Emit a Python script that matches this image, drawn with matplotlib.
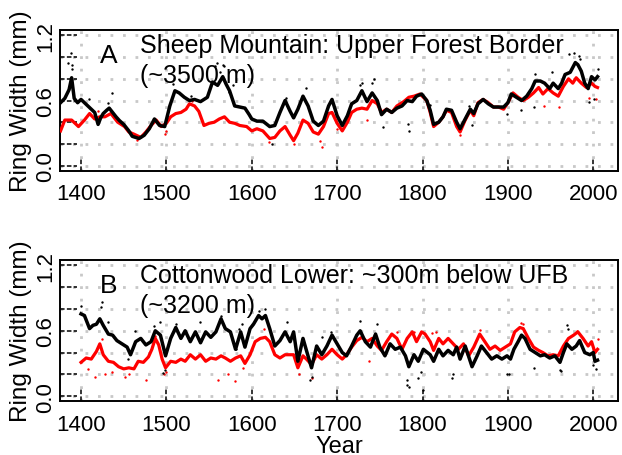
import matplotlib.pyplot as plt
import numpy as np

plt.rcParams['font.family'] = ['Liberation Sans', 'DejaVu Sans']

# Panel A: Sheep Mountain, upper forest border -- smoothed series
a_blk_years = [1376, 1381, 1386, 1389, 1392, 1396, 1400, 1404, 1408, 1412, 1416, 1420, 1423, 1426,
               1430, 1433, 1437, 1441, 1445, 1450, 1456, 1460, 1464, 1468, 1474, 1480, 1486, 1492,
               1498, 1504, 1510, 1515, 1521, 1527, 1533, 1540, 1548, 1554, 1560, 1566, 1570, 1574,
               1580, 1586, 1592, 1597, 1600, 1606, 1613, 1621, 1627, 1633, 1639, 1645, 1649, 1654,
               1660, 1666, 1672, 1678, 1684, 1690, 1694, 1700, 1706, 1712, 1717, 1723, 1729, 1735,
               1741, 1747, 1752, 1758, 1764, 1770, 1776, 1782, 1788, 1793, 1799, 1805, 1809, 1813,
               1819, 1824, 1828, 1834, 1840, 1844, 1850, 1856, 1860, 1865, 1871, 1877, 1883, 1889,
               1895, 1900, 1904, 1910, 1916, 1922, 1928, 1932, 1938, 1943, 1949, 1953, 1959, 1963,
               1967, 1973, 1979, 1982, 1986, 1990, 1994, 1998, 2002, 2005]
a_blk_vals = [0.58, 0.62, 0.70, 0.81, 0.62, 0.58, 0.61, 0.58, 0.55, 0.52, 0.49, 0.38, 0.44, 0.48,
              0.51, 0.53, 0.49, 0.45, 0.415, 0.38, 0.32, 0.27, 0.26, 0.25, 0.28, 0.34, 0.43, 0.37,
              0.36, 0.55, 0.69, 0.67, 0.63, 0.60, 0.61, 0.59, 0.63, 0.77, 0.74, 0.82, 0.75, 0.69,
              0.55, 0.54, 0.53, 0.47, 0.43, 0.41, 0.41, 0.36, 0.37, 0.49, 0.60, 0.50, 0.44, 0.52,
              0.64, 0.55, 0.41, 0.37, 0.41, 0.55, 0.61, 0.46, 0.37, 0.46, 0.57, 0.60, 0.69, 0.59,
              0.67, 0.60, 0.47, 0.52, 0.49, 0.53, 0.55, 0.60, 0.59, 0.64, 0.66, 0.60, 0.51, 0.38,
              0.40, 0.45, 0.52, 0.51, 0.40, 0.34, 0.43, 0.52, 0.48, 0.57, 0.61, 0.57, 0.54, 0.54,
              0.54, 0.58, 0.66, 0.63, 0.60, 0.64, 0.71, 0.78, 0.78, 0.76, 0.71, 0.76, 0.71, 0.76,
              0.84, 0.86, 0.95, 0.93, 0.87, 0.76, 0.71, 0.82, 0.79, 0.82]
a_red_years = [1376, 1381, 1389, 1397, 1404, 1410, 1416, 1422, 1428, 1435, 1443, 1451, 1456, 1462,
               1470, 1476, 1482, 1488, 1494, 1500, 1505, 1511, 1517, 1523, 1527, 1533, 1538, 1544,
               1550, 1556, 1562, 1568, 1574, 1580, 1586, 1594, 1600, 1606, 1613, 1621, 1627, 1633,
               1639, 1645, 1649, 1654, 1660, 1666, 1672, 1678, 1684, 1690, 1694, 1700, 1706, 1712,
               1717, 1723, 1729, 1735, 1741, 1747, 1752, 1758, 1764, 1770, 1778, 1784, 1790, 1797,
               1805, 1809, 1813, 1819, 1824, 1828, 1834, 1840, 1844, 1850, 1856, 1860, 1865, 1871,
               1877, 1883, 1889, 1895, 1900, 1906, 1912, 1918, 1924, 1930, 1936, 1941, 1947, 1953,
               1959, 1965, 1971, 1976, 1980, 1986, 1992, 1998, 2002, 2005]
a_red_vals = [0.32, 0.42, 0.42, 0.36, 0.42, 0.48, 0.43, 0.45, 0.45, 0.48, 0.40, 0.36, 0.31, 0.29,
              0.26, 0.31, 0.37, 0.42, 0.36, 0.39, 0.45, 0.48, 0.49, 0.52, 0.57, 0.55, 0.50, 0.37,
              0.39, 0.40, 0.43, 0.45, 0.40, 0.39, 0.37, 0.36, 0.32, 0.34, 0.32, 0.25, 0.26, 0.32,
              0.36, 0.28, 0.23, 0.30, 0.42, 0.39, 0.31, 0.29, 0.36, 0.48, 0.49, 0.39, 0.32, 0.40,
              0.49, 0.52, 0.53, 0.52, 0.60, 0.57, 0.49, 0.52, 0.49, 0.55, 0.59, 0.63, 0.64, 0.66,
              0.60, 0.49, 0.36, 0.40, 0.45, 0.51, 0.49, 0.36, 0.31, 0.42, 0.51, 0.46, 0.58, 0.61,
              0.58, 0.54, 0.54, 0.52, 0.58, 0.67, 0.63, 0.60, 0.63, 0.67, 0.72, 0.66, 0.71, 0.67,
              0.64, 0.73, 0.80, 0.76, 0.81, 0.76, 0.72, 0.76, 0.73, 0.72]

# Panel A: annual values that stand away from the smoothed lines
a_blk_dot_years = [1385, 1388, 1389, 1390, 1409, 1432, 1436, 1508, 1529, 1557, 1559, 1563, 1566, 1568,
                   1573, 1578, 1624, 1663, 1640, 1727, 1729, 1743, 1741, 1754, 1784, 1783, 1809, 1854,
                   1858, 1899, 1915, 1930, 1932, 1952, 1971, 1977, 1983, 1985, 1995, 2001, 2005]
a_blk_dot_vals = [0.95, 1.04, 0.93, 0.89, 0.61, 0.58, 0.67, 0.75, 0.64, 0.92, 0.95, 0.86, 0.93, 0.92,
                  0.68, 0.74, 0.20, 0.72, 0.62, 0.74, 0.76, 0.80, 0.76, 0.36, 0.32, 0.38, 0.56, 0.55,
                  0.37, 0.48, 0.51, 0.54, 0.84, 0.86, 1.03, 1.04, 1.01, 0.98, 0.59, 0.61, 0.89]
a_red_dot_years = [1466, 1498, 1499, 1649, 1682, 1680, 1735, 1844, 1942, 1960, 1995, 2003, 1420, 1530,
                   1700, 1620]
a_red_dot_vals = [0.24, 0.29, 0.32, 0.20, 0.17, 0.23, 0.42, 0.28, 0.55, 0.54, 0.62, 0.61, 0.50, 0.60,
                  0.34, 0.22]

# Panel B: Cottonwood Lower -- smoothed series
b_blk_years = [1400, 1404, 1410, 1414, 1418, 1422, 1426, 1432, 1437, 1442, 1448, 1454, 1458, 1464,
               1470, 1476, 1482, 1487, 1493, 1499, 1505, 1511, 1517, 1522, 1528, 1534, 1540, 1546,
               1552, 1558, 1564, 1569, 1575, 1581, 1587, 1592, 1598, 1602, 1608, 1612, 1616, 1621,
               1627, 1633, 1639, 1645, 1649, 1654, 1660, 1664, 1670, 1676, 1682, 1688, 1694, 1700,
               1706, 1711, 1717, 1723, 1727, 1733, 1739, 1745, 1750, 1756, 1762, 1768, 1774, 1780,
               1784, 1790, 1795, 1801, 1809, 1813, 1819, 1824, 1830, 1836, 1840, 1844, 1850, 1858,
               1864, 1869, 1875, 1881, 1887, 1893, 1899, 1903, 1907, 1912, 1916, 1920, 1926, 1932,
               1938, 1943, 1949, 1955, 1961, 1965, 1969, 1975, 1980, 1984, 1990, 1996, 2000, 2002,
               2005]
b_blk_vals = [0.755, 0.74, 0.62, 0.65, 0.66, 0.71, 0.65, 0.57, 0.56, 0.51, 0.48, 0.45, 0.38, 0.50,
              0.53, 0.47, 0.50, 0.60, 0.56, 0.37, 0.53, 0.63, 0.53, 0.60, 0.50, 0.59, 0.49, 0.59,
              0.54, 0.59, 0.71, 0.62, 0.59, 0.43, 0.59, 0.45, 0.62, 0.66, 0.74, 0.71, 0.74, 0.62,
              0.46, 0.51, 0.59, 0.50, 0.59, 0.32, 0.53, 0.42, 0.26, 0.46, 0.38, 0.46, 0.56, 0.48,
              0.40, 0.37, 0.46, 0.56, 0.60, 0.50, 0.45, 0.57, 0.45, 0.37, 0.48, 0.43, 0.45, 0.37,
              0.27, 0.38, 0.32, 0.43, 0.38, 0.32, 0.43, 0.37, 0.42, 0.38, 0.45, 0.34, 0.46, 0.27,
              0.37, 0.46, 0.40, 0.34, 0.37, 0.34, 0.37, 0.34, 0.43, 0.50, 0.56, 0.53, 0.43, 0.40,
              0.37, 0.38, 0.35, 0.37, 0.31, 0.40, 0.48, 0.43, 0.46, 0.51, 0.40, 0.38, 0.40, 0.32,
              0.33]
b_red_years = [1400, 1406, 1412, 1418, 1422, 1426, 1432, 1438, 1444, 1450, 1456, 1462, 1467, 1473,
               1479, 1483, 1487, 1491, 1495, 1499, 1505, 1511, 1517, 1522, 1528, 1534, 1540, 1546,
               1552, 1558, 1564, 1569, 1575, 1581, 1587, 1592, 1598, 1604, 1610, 1616, 1621, 1627,
               1633, 1639, 1645, 1649, 1654, 1660, 1664, 1670, 1676, 1682, 1688, 1694, 1700, 1706,
               1711, 1717, 1723, 1729, 1735, 1741, 1747, 1752, 1758, 1764, 1770, 1776, 1782, 1788,
               1793, 1799, 1803, 1809, 1813, 1819, 1824, 1830, 1836, 1842, 1848, 1854, 1860, 1867,
               1873, 1879, 1885, 1891, 1897, 1903, 1908, 1914, 1918, 1924, 1930, 1936, 1941, 1947,
               1953, 1959, 1965, 1971, 1977, 1982, 1988, 1994, 1998, 2002, 2005]
b_red_vals = [0.31, 0.35, 0.34, 0.41, 0.48, 0.38, 0.32, 0.31, 0.27, 0.25, 0.26, 0.25, 0.32, 0.31,
              0.36, 0.43, 0.53, 0.47, 0.34, 0.26, 0.32, 0.31, 0.34, 0.32, 0.38, 0.34, 0.38, 0.32,
              0.35, 0.34, 0.37, 0.35, 0.32, 0.35, 0.37, 0.30, 0.38, 0.50, 0.53, 0.54, 0.50, 0.38,
              0.35, 0.38, 0.38, 0.38, 0.26, 0.37, 0.34, 0.29, 0.38, 0.34, 0.38, 0.43, 0.38, 0.34,
              0.38, 0.45, 0.51, 0.54, 0.50, 0.53, 0.46, 0.42, 0.50, 0.57, 0.53, 0.43, 0.53, 0.59,
              0.50, 0.59, 0.57, 0.50, 0.42, 0.53, 0.48, 0.53, 0.48, 0.43, 0.48, 0.37, 0.45, 0.57,
              0.50, 0.43, 0.46, 0.42, 0.45, 0.48, 0.59, 0.63, 0.62, 0.53, 0.45, 0.42, 0.40, 0.37,
              0.38, 0.37, 0.46, 0.53, 0.56, 0.59, 0.53, 0.46, 0.50, 0.40, 0.43]

b_blk_dot_years = [1400, 1424, 1423, 1432, 1455, 1463, 1485, 1492, 1496, 1498, 1511, 1539, 1564, 1581,
                   1585, 1589, 1616, 1609, 1641, 1670, 1668, 1682, 1693, 1727, 1747, 1782, 1782, 1784,
                   1795, 1798, 1801, 1836, 1835, 1899, 1901, 1930, 1961, 1962, 1969, 1970, 2000, 2003]
b_blk_dot_vals = [0.83, 0.86, 0.82, 0.68, 0.34, 0.60, 0.64, 0.68, 0.21, 0.24, 0.66, 0.68, 0.74, 0.43,
                  0.62, 0.66, 0.80, 0.78, 0.68, 0.18, 0.15, 0.54, 0.59, 0.69, 0.66, 0.15, 0.10, 0.08,
                  0.17, 0.22, 0.06, 0.20, 0.17, 0.20, 0.20, 0.26, 0.24, 0.23, 0.65, 0.62, 0.29, 0.25]
b_red_dot_years = [1408, 1416, 1424, 1428, 1436, 1451, 1456, 1476, 1487, 1497, 1500, 1560, 1580, 1572,
                   1590, 1614, 1655, 1670, 1737, 1770, 1790, 1811, 1816, 1867, 1918, 1915, 1981, 2006]
b_red_dot_vals = [0.25, 0.18, 0.52, 0.20, 0.22, 0.18, 0.20, 0.15, 0.55, 0.20, 0.22, 0.15, 0.14, 0.20,
                  0.26, 0.62, 0.20, 0.17, 0.32, 0.59, 0.59, 0.58, 0.59, 0.61, 0.66, 0.67, 0.60, 0.52]

x_ticks = [1400, 1500, 1600, 1700, 1800, 1900, 2000]
y_grid = [0.0, 0.2, 0.4, 0.6, 0.8, 1.0, 1.2]
y_labels = [0.0, 0.6, 1.2]


def panel(ax, bx, by, rx, ry, bdx, bdy, rdx, rdy, letter, line1, line2):
    ax.set_xlim(1375.4, 2029)
    ax.set_ylim(-0.045, 1.25)
    for v in y_grid:
        ax.axhline(v, color='#c8c8c8', lw=2, ls=(0, (1, 3.5)), zorder=0)
        ax.axhline(v, xmin=0, xmax=0.03, color='k', lw=1.1, ls=(0, (3, 1.5)), zorder=1)
    for t in x_ticks:
        ax.axvline(t, color='#c8c8c8', lw=2, ls=(0, (1, 3.5)), zorder=0)
        ax.axvline(t, ymin=0, ymax=0.085, color='k', lw=1.1, ls=(0, (3, 1.5)), zorder=1)

    ax.text(0.0717, 0.772, letter, transform=ax.transAxes, fontsize=19, zorder=1)
    ax.text(0.1434, 0.843, line1, transform=ax.transAxes, fontsize=18, zorder=1)
    ax.text(0.1434, 0.630, line2, transform=ax.transAxes, fontsize=18, zorder=1)

    ax.scatter(rdx, rdy, s=3, color='red', lw=0, zorder=2)
    ax.scatter(bdx, bdy, s=3, color='black', lw=0, zorder=2)
    ax.plot(rx, ry, color='red', lw=2.3, zorder=3)
    ax.plot(bx, by, color='black', lw=2.5, zorder=4)

    ax.set_xticks(x_ticks)
    ax.set_yticks(y_labels)
    ax.set_yticklabels(['%.1f' % v for v in y_labels], rotation=90, va='center')
    ax.tick_params(length=0, labelsize=16)
    ax.tick_params(axis='x', pad=9)
    ax.tick_params(axis='y', pad=3)
    for s in ax.spines.values():
        s.set_linewidth(1.4)
    ax.set_ylabel('Ring Width (mm)', fontsize=17.5)
    ax.yaxis.set_label_coords(-0.05, 0.5)


fig = plt.figure(figsize=(6.22, 4.56), dpi=100)
axA = fig.add_axes([0.0965, 0.6239, 0.8971, 0.3081])
axB = fig.add_axes([0.0965, 0.1184, 0.8971, 0.3092])

panel(axA, a_blk_years, a_blk_vals, a_red_years, a_red_vals,
      a_blk_dot_years, a_blk_dot_vals, a_red_dot_years, a_red_dot_vals,
      'A', 'Sheep Mountain: Upper Forest Border', '(~3500 m)')
panel(axB, b_blk_years, b_blk_vals, b_red_years, b_red_vals,
      b_blk_dot_years, b_blk_dot_vals, b_red_dot_years, b_red_dot_vals,
      'B', 'Cottonwood Lower: ~300m below UFB', '(~3200 m)')
axB.set_xlabel('Year', fontsize=17, labelpad=0)

fig.savefig('out.png', dpi=100)
